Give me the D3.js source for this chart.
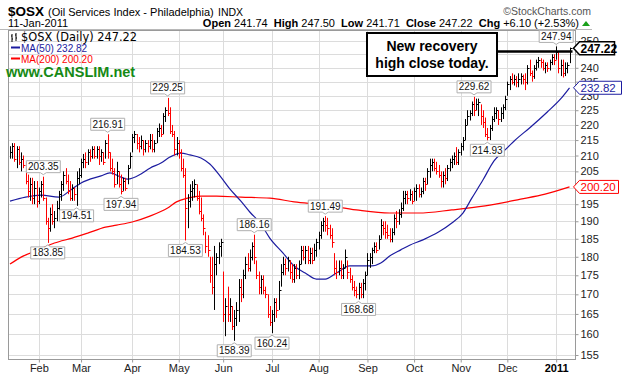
<!DOCTYPE html>
<html lang="en">
<head>
<meta charset="utf-8"/>
<script src="https://d3js.org/d3.v7.min.js"></script>
<style>
  body { margin: 0; background: #fff; }
  text { font-family: "Liberation Sans", Arial, sans-serif; }
</style>
</head>
<body>
<div id="chart"></div>
<script>
// NYSE holidays inside the window
var holidays = ["2010-01-18", "2010-02-15", "2010-04-02", "2010-05-31", "2010-07-05",
                "2010-09-06", "2010-11-25", "2010-12-24"];
var firstDay = "2010-01-12", lastDay = "2011-01-11";

var monthLabels = ["Feb", "Mar", "Apr", "May", "Jun", "Jul", "Aug", "Sep", "Oct", "Nov", "Dec", "2011"];
var priceTicks = [155, 160, 165, 170, 175, 180, 185, 190, 195, 200, 205, 210, 215, 220, 225,
                  230, 235, 240, 245, 250];
// these two sit under the value tags on the right
var hiddenTicks = [200, 245];

var highs = [
  213,214,214,213,213,211,210,208,204,203,
  203,202,202,200,202,203.35,197,191,194,195,
  193,196,199,202,205,206,204,202,201,200,
  205,206,209,210.5,211,212,212,213,213,213,
  213,212,211,215,216.91,211,209,206,208,205,
  204,203,203,207,211,217,218,217,216,216.5,
  215,215,215,217,217,215,219,220.5,220,224,
  226,229.25,226,220,218,216,215,212,209,206,
  198,201,202,202.5,201,199,197,192,187,186,
  180,180,183,181,184,185,176,169,172,169,
  167,166,168,174,174,176.5,180,181,182,184,
  186.16,179,176,175,175,172,170,167,166,169,
  169,173.5,178,180,179.5,180,179,178,178,178,
  179,183,183,183,183,182.5,182.5,183.6,185,187,
  190,191,191.49,191,189,188,181,179,179,179,
  178,182,179,177,175,173.5,172,173,173,174,
  176,181,181,182.5,184,184,186,190.6,190,190,
  189,188,188,192,193,193.5,195.5,199,199,199,
  199.5,199,200,201,201,200,203,203,206,209,
  209,209,208,207,205,205,206,207,209,210,
  211,212.7,212,214,216,222,225,225,228,229.62,
  229,229,227,225,222.5,219,220,223,226,226,
  225,226,227,230,235,237,238,237.5,237,238,
  238,237.5,238,241,243,239,241,243,244,243.5,
  243,242,242,243,245,245,247.94,246,243,243,
  242,242,247.5
];
var lows = [
  209,209,208,206,207,205,206,201,197,196,
  195,195,194,195,197,196,189,183.85,187,189,
  188,190,193,196,199,201,198,196,196,196,
  194.51,201,203,206,206,207,208,209,209,209,
  207,208,207,209,209,205,204,200,201,200,
  197.94,199,199,201,206,211,214,212,211,212,
  210,211,211,212,211,211,214,216,216,217,
  221,223,217,216,210,210,209,205,203,184.53,
  188,194,196,197,196,192,190,186,181,180,
  173,170,166,175,178,180,163,159.5,163,163,
  161,158.39,162,163,168,169,174,176,176,179,
  178,174,170,170,170,169,164,162,160.24,163,
  164,166,172,175,175,176,174,173,173,174,
  174,178,179,178,178,178,178,179,180,182,
  185,187,187,186,185,182.5,175,174,175,174,
  174,177,174,173,171,169.5,169,168.68,169,169,
  171,175,177,178,181,181,182,185,186,185,
  185,184,184,186,188,189,191,193,195,195,
  196,195,196,196,197,197,198,199,201,203,
  205,205,204,203,200,200,201,202,205,206,
  207,207,207,210,211.6,215,220,221.5,223,223,
  225,223,220,219,216,214.93,215,218,221,222,
  220,221,222,225,230,232,234,233.6,233,233,
  234,234,232,234,237,235,236,239,240,240,
  239,238,238.5,239,241,241,243,238,237,236.5,
  237,238,241.71
];
var closes = [
  211,213,209,212,208,209,207,202,199,201,
  197,200,196,199,201,197,190,188,192,190,
  191,194,198,201,204,202,199,197,200,198,
  203,204,208,209,208,211,210,212,210,212,
  210,211,208,214,211,206,205,201,205,201,
  199,202,200,206,210,216,217,214,213,215,
  212,214,213,215,212,214,218,219,217,223,
  225,224,218,217,212,214,211,206,204,194,
  196,199,200,201,197,193,191,188,183,182,
  175,172,178,180,183,184,165,167,165,167,
  162,164,166,172,170,175,178,177,180,183,
  180,175,172,174,171,170,165,163,165,168,
  166,171,176,178,177,179,176,174,177,175,
  178,182,180,182,179,181,179,182,184,186,
  189,190,189,188,186,184,177,176,177,175,
  177,180,176,174,172,171,170,172,170,173,
  175,179,180,182,183,182,185,189,188,187,
  186,185,187,191,190,192,194,197,198,197,
  198,196,199,200,198,199,202,201,205,207,
  208,206,205,204,202,204,203,206,208,209,
  210,208,211,213,215,220,223,224,227,225,
  227,228,223,221,217,216,219,222,224,225,
  222,224,226,229,234,236,235,236,235,236,
  237,236,235,240,238,237,240,242,243,242,
  240,241,240,242,244,243,246,240,241,238,
  240,241.12,247.22
];

// moving averages at sample bars
var ma50Bars = [0,7,14,22,28,32,41,45,50,53,59,63,68,72,77,81,86,90,95,99,104,108,113,117,123,
                128,133,138,142,147,153,159,163,167,171,176,180,186,193,199,204,208,213,218,223,
                228,234,242,248,252];
var ma50Vals = [195.9,197.1,197.7,197.1,199.6,201.4,203.6,204.5,203.2,202.6,204.2,206.0,207.6,209.5,
                210.8,210.2,209.2,207.3,203.2,199.6,195.9,192.7,189.2,185.2,181.0,177.5,175.6,174.0,
                174.0,175.6,177.5,177.5,177.5,178.3,180.2,181.9,183.2,184.7,186.9,189.5,192.4,196.8,
                202.3,208.3,211.8,215.3,219.0,224.4,228.9,232.82];
var ma200Bars = [0,5,13,20,28,35,43,48,55,63,71,75,80,86,93,104,117,128,141,156,171,184,199,214,230,241,252];
var ma200Vals = [178.0,179.9,181.9,183.8,185.2,186.6,188.3,188.9,189.8,191.5,193.9,195.7,196.8,197.4,
                 197.4,197.1,196.8,195.7,194.8,193.3,192.4,192.4,193.3,194.5,196.5,198.0,200.20];

// labelled swing points
var pivotBars = [15, 44, 71, 110, 142, 209, 246, 17, 30, 50, 79, 101, 118, 157, 215];
var pivotVals = [203.35, 216.91, 229.25, 186.16, 191.49, 229.62, 247.94,
                 183.85, 194.51, 197.94, 184.53, 158.39, 160.24, 168.68, 214.93];
var pivotSide = ["high","high","high","high","high","high","high",
                 "low","low","low","low","low","low","low","low"];

var fmtDay = d3.timeFormat("%Y-%m-%d");
var parseDay = d3.timeParse("%Y-%m-%d");
var days = d3.timeDay.range(parseDay(firstDay), d3.timeDay.offset(parseDay(lastDay), 1))
    .filter(function(d) { return d.getDay() !== 0 && d.getDay() !== 6 && holidays.indexOf(fmtDay(d)) < 0; })
    .map(fmtDay);

var monthStarts = days.filter(function(d, i) { return i > 0 && d.slice(5, 7) !== days[i - 1].slice(5, 7); });

var plot = {left: 8.5, right: 575.5, top: 30.5, bottom: 359.5};

var svg = d3.select("#chart")
    .append("svg")
        .attr("width", 623)
        .attr("height", 376);

var x = d3.scalePoint()
    .domain(days)
    .range([10, 569.5]);

var y = d3.scaleLog()
    .domain([155, 250])
    .range([355, 41]);

// header
svg.append("text").attr("x", 8).attr("y", 16)
    .style("font-size", "13.5px").style("font-weight", "bold").text("$OSX");
svg.append("text").attr("x", 48).attr("y", 16)
    .style("font-size", "11px").text("(Oil Services Index - Philadelphia)");
svg.append("text").attr("x", 218).attr("y", 16)
    .style("font-size", "10.5px").text("INDX");
svg.append("text").attr("x", 591).attr("y", 15).attr("text-anchor", "end")
    .style("font-size", "10.5px").style("fill", "#555").text("\u00a9StockCharts.com");
svg.append("text").attr("x", 8).attr("y", 27)
    .style("font-size", "11px").text("11-Jan-2011");

var quote = svg.append("text").attr("x", 579).attr("y", 27).attr("text-anchor", "end")
    .style("font-size", "11px");
[["Open", " 241.74  "], ["High", " 247.50  "], ["Low", " 241.71  "], ["Close", " 247.22  "], ["Chg", " +6.10 (+2.53%)"]]
    .forEach(function(p) {
        quote.append("tspan").style("font-weight", "bold").text(p[0]);
        quote.append("tspan").attr("xml:space", "preserve").text(p[1]);
    });
svg.append("path").attr("d", "M582,26 L586,21 L590,26 Z").style("fill", "#1aa01a");

svg.append("line")
    .attr("x1", 0).attr("x2", 592).attr("y1", 29.5).attr("y2", 29.5)
    .style("stroke", "#b8b8b8");

// grid
svg.append("g").selectAll("line")
    .data(priceTicks)
    .enter()
    .append("line")
        .attr("x1", plot.left).attr("x2", plot.right)
        .attr("y1", function(d) { return Math.round(y(d)) + 0.5; })
        .attr("y2", function(d) { return Math.round(y(d)) + 0.5; })
        .style("stroke", "#dcdcdc");

svg.append("g").selectAll("line")
    .data(monthStarts)
    .enter()
    .append("line")
        .attr("x1", function(d) { return Math.round(x(d)) + 0.5; })
        .attr("x2", function(d) { return Math.round(x(d)) + 0.5; })
        .attr("y1", plot.top).attr("y2", plot.bottom)
        .style("stroke", "#dcdcdc");

// moving averages
var maLine = d3.line()
    .x(function(d) { return x(days[d[0]]); })
    .y(function(d) { return y(d[1]); })
    .curve(d3.curveMonotoneX);

svg.append("path")
    .attr("d", maLine(d3.zip(ma200Bars, ma200Vals)))
    .style("fill", "none").style("stroke", "#ff0000").style("stroke-width", 1.2);
svg.append("path")
    .attr("d", maLine(d3.zip(ma50Bars, ma50Vals)))
    .style("fill", "none").style("stroke", "#1c1ca0").style("stroke-width", 1.2);

// HLC bars
var barColor = function(i) { return i > 0 && closes[i] < closes[i - 1] ? "#ff0000" : "#000"; };
var bars = svg.append("g").selectAll("g")
    .data(days)
    .enter()
    .append("g");
bars.append("line")
    .attr("x1", function(d) { return Math.round(x(d)) + 0.5; })
    .attr("x2", function(d) { return Math.round(x(d)) + 0.5; })
    .attr("y1", function(d, i) { return y(highs[i]); })
    .attr("y2", function(d, i) { return y(lows[i]); })
    .style("stroke", function(d, i) { return barColor(i); });
bars.append("line")
    .attr("x1", function(d) { return Math.round(x(d)) + 1; })
    .attr("x2", function(d) { return Math.round(x(d)) + 2.5; })
    .attr("y1", function(d, i) { return Math.round(y(closes[i])) + 0.5; })
    .attr("y2", function(d, i) { return Math.round(y(closes[i])) + 0.5; })
    .style("stroke", function(d, i) { return barColor(i); });

// frame
svg.append("rect")
    .attr("x", plot.left).attr("y", plot.top)
    .attr("width", plot.right - plot.left).attr("height", plot.bottom - plot.top)
    .style("fill", "none").style("stroke", "#9a9a9a");

// axes
var yAxis = svg.append("g")
    .attr("transform", "translate(" + plot.right + ",0)")
    .call(d3.axisRight(y).tickValues(priceTicks).tickSize(3).tickPadding(2)
        .tickFormat(function(d) { return hiddenTicks.indexOf(d) < 0 ? d3.format("d")(d) : ""; }));
var xAxis = svg.append("g")
    .attr("transform", "translate(0," + plot.bottom + ")")
    .call(d3.axisBottom(x).tickValues(monthStarts)
        .tickFormat(function(d, i) { return monthLabels[i]; }).tickSize(3).tickPadding(2));
[yAxis, xAxis].forEach(function(a) {
    a.select(".domain").remove();
    a.selectAll("line").style("stroke", "#9a9a9a");
    a.selectAll("text").style("font-family", "'Liberation Sans', Arial, sans-serif")
        .style("font-size", "11px").style("fill", "#222");
});
xAxis.selectAll("text").filter(function(d, i) { return monthLabels[i] === "2011"; })
    .style("font-weight", "bold").style("fill", "#000");

// swing labels
var tags = svg.append("g").selectAll("g")
    .data(pivotBars)
    .enter()
    .append("g")
        .attr("transform", function(d, k) { return "translate(" + x(days[d]) + "," + y(pivotVals[k]) + ")"; });
tags.append("path")
    .attr("d", function(d, k) {
        var s = pivotSide[k] === "high" ? -1 : 1;
        var b = s * 16, t = s * 4, c = s * 2;
        return "M-17," + (s * 4) + " L-3," + t + " L0," + c + " L3," + t + " L17," + t +
            " L17," + b + " L-17," + b + " Z";
    })
    .style("fill", "#fff").style("stroke", "#b0b0b0");
tags.append("text")
    .attr("text-anchor", "middle")
    .attr("y", function(d, k) { return pivotSide[k] === "high" ? -6.5 : 13.5; })
    .style("font-size", "10px").style("fill", "#111")
    .text(function(d, k) { return pivotVals[k].toFixed(2); });

// right-edge value tags
function edgeTag(v, label, color, bold, width) {
    var g = svg.append("g").attr("transform", "translate(" + (plot.right - 2) + "," + y(v) + ")");
    g.append("path")
        .attr("d", "M0,0 L6,-6.5 L" + width + ",-6.5 L" + width + ",6.5 L6,6.5 Z")
        .style("fill", "#fff").style("stroke", color).style("stroke-width", bold ? 1.5 : 1);
    g.append("text").attr("x", 7).attr("y", 4.5)
        .style("font-size", bold ? "12px" : "11.5px").style("font-weight", bold ? "bold" : "normal")
        .style("fill", color).text(label);
}
edgeTag(ma200Vals[ma200Vals.length - 1], "200.20", "#ff0000", false, 45);
edgeTag(ma50Vals[ma50Vals.length - 1], "232.82", "#1c1ca0", false, 48);

// annotation: prior recovery-high close and note
svg.append("line")
    .attr("x1", 497).attr("x2", x(days[days.length - 1]) + 3)
    .attr("y1", y(closes[246])).attr("y2", y(closes[246]))
    .style("stroke", "#000").style("stroke-width", 2.5);
edgeTag(closes[closes.length - 1], "247.22", "#000", true, 41);

svg.append("rect")
    .attr("x", 367).attr("y", 33).attr("width", 130).attr("height", 43)
    .style("fill", "#fff").style("stroke", "#000").style("stroke-width", 2);
svg.append("text").attr("x", 432).attr("y", 51).attr("text-anchor", "middle")
    .style("font-size", "14px").style("font-weight", "bold").text("New recovery");
svg.append("text").attr("x", 432).attr("y", 68).attr("text-anchor", "middle")
    .style("font-size", "14px").style("font-weight", "bold").text("high close today.");

// legend
var legend = svg.append("g");
legend.append("path").attr("d", "M12,34 L12,42 M11,36 L12,36 M12,39 L13,39 M16,33 L16,41 M15,35 L16,35 M16,38 L17,38")
    .style("stroke", "#000").style("fill", "none");
legend.append("text").attr("x", 21).attr("y", 41)
    .style("font-family", "'DejaVu Sans', Verdana, sans-serif").style("font-size", "11.4px")
    .text("$OSX (Daily) 247.22");
legend.append("line").attr("x1", 11).attr("x2", 20).attr("y1", 47.5).attr("y2", 47.5)
    .style("stroke", "#1c1ca0").style("stroke-width", 2);
legend.append("text").attr("x", 21).attr("y", 51.5)
    .style("font-size", "10px").style("fill", "#1c1ca0").text("MA(50) 232.82");
legend.append("line").attr("x1", 11).attr("x2", 20).attr("y1", 58.5).attr("y2", 58.5)
    .style("stroke", "#ff0000").style("stroke-width", 2);
legend.append("text").attr("x", 21).attr("y", 62.5)
    .style("font-size", "10px").style("fill", "#ff0000").text("MA(200) 200.20");
legend.append("text").attr("x", 6).attr("y", 77)
    .style("font-size", "14.5px").style("font-weight", "bold").style("fill", "#168a16")
    .text("www.CANSLIM.net");
</script>
</body>
</html>
